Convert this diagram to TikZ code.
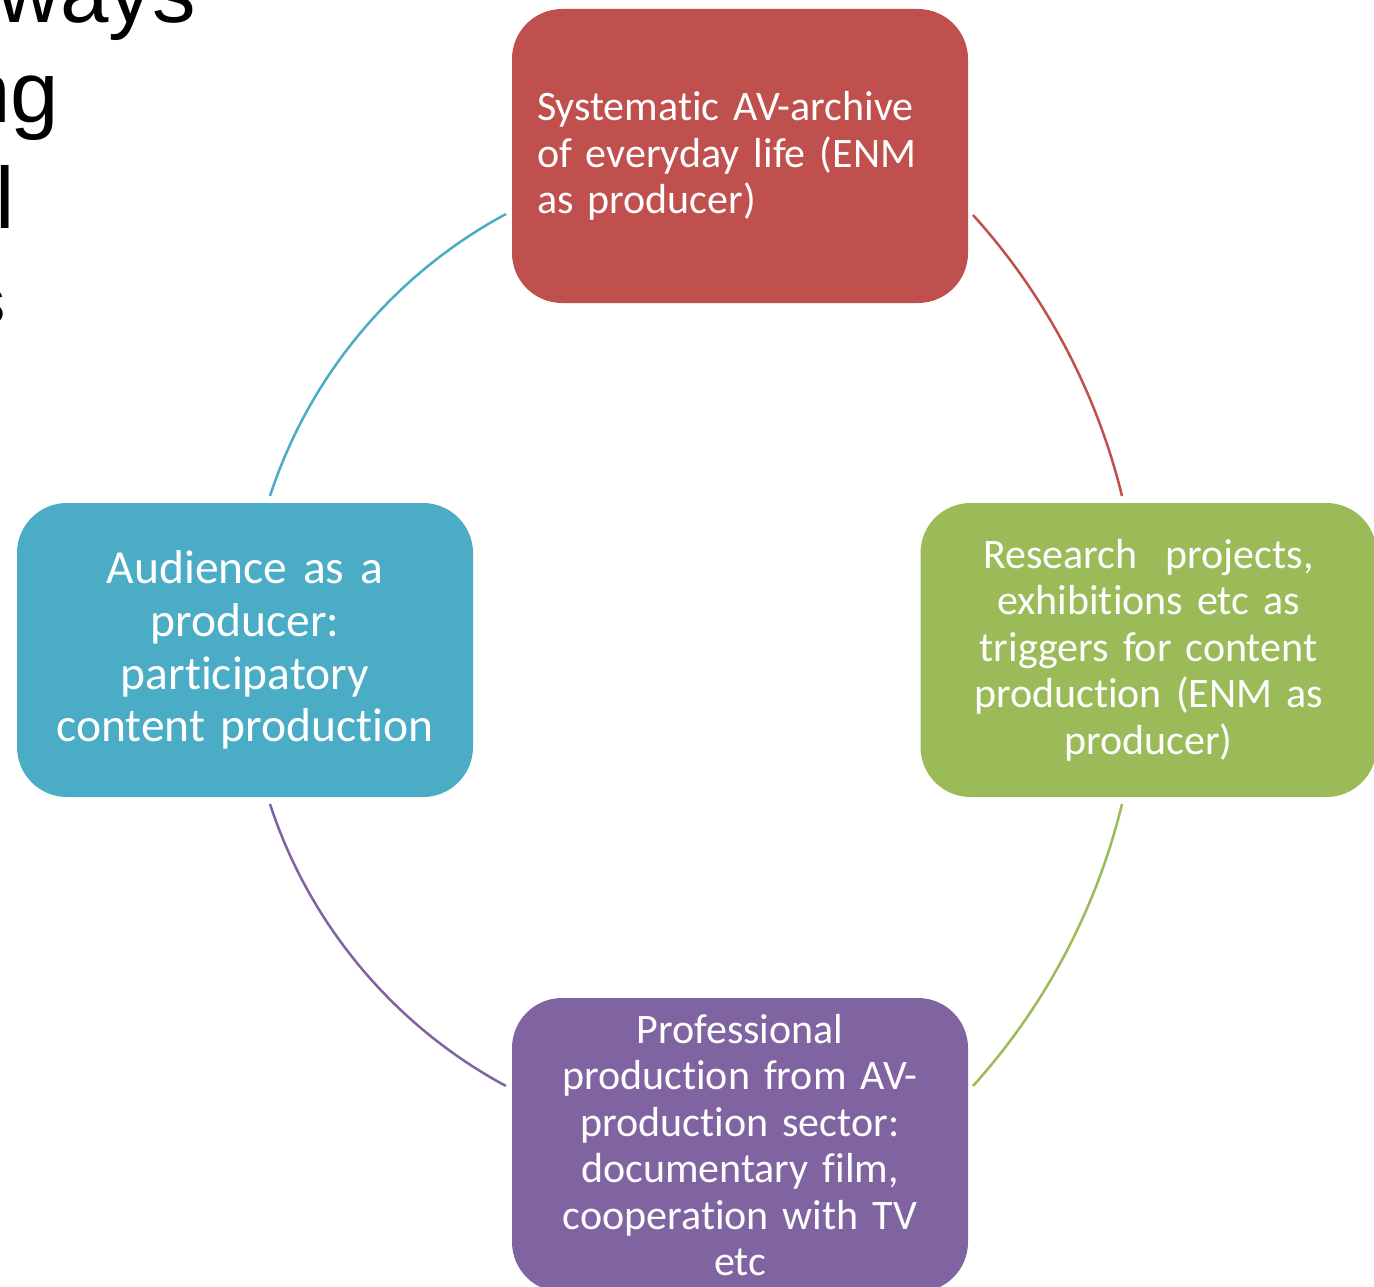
\documentclass[tikz,border=0pt]{standalone}
\usepackage{fontspec}
\setmainfont{Carlito}[Ligatures={NoCommon}]
\newfontfamily\arialfont{Liberation Sans}
\definecolor{boxred}{HTML}{C0504D}
\definecolor{boxgreen}{HTML}{9BBB59}
\definecolor{boxpurple}{HTML}{8064A2}
\definecolor{boxcyan}{HTML}{4BACC6}
\begin{document}
\begin{tikzpicture}[x=1pt,y=-1pt,
  cyclebox/.style={rounded corners=50pt, minimum width=456pt, minimum height=294pt,
    text=white, inner sep=0pt, text width=446pt, align=center,
    font=\fontsize{42}{46.5}\selectfont},
  arcline/.style={line width=2.5pt},
  bgtext/.style={inner sep=0pt, anchor=base east, font=\arialfont\fontsize{87}{100}\selectfont}]
\useasboundingbox (0,0) rectangle (1374,1287);
\clip (0,0) rectangle (1374,1287);

% background title fragments
\node[bgtext] (bgA) at (196,23) {ways};
\node[bgtext] (bgB) at (59,123) {ng};
\node[bgtext] (bgC) at (15.5,228) {l};
\node[bgtext, font=\arialfont\fontsize{64}{74}\selectfont] (bgD) at (6,323) {s};

% arc end points
\coordinate (a1s) at (506,214);
\coordinate (a1e) at (270,496);
\coordinate (a2s) at (973,215);
\coordinate (a2e) at (1122,496);
\coordinate (a3s) at (1122,804);
\coordinate (a3e) at (973,1086);
\coordinate (a4s) at (270,804);
\coordinate (a4e) at (506,1086);

\draw[arcline, boxcyan] (a1s) to[bend right=21.85, looseness=0.883] (a1e);
\draw[arcline, boxred] (a2s) to[bend left=14.2, looseness=0.865] (a2e);
\draw[arcline, boxgreen] (a3s) to[bend left=14.2, looseness=0.865] (a3e);
\draw[arcline, boxpurple] (a4s) to[bend right=21.85, looseness=0.883] (a4e);

% boxes
\node[cyclebox, fill=boxred, text width=406pt, inner xsep=25pt, align=left] (top) at (740,156)
  {Systematic AV-archive\\of everyday life (ENM\\as producer)};
\node[cyclebox, fill=boxgreen] (right) at (1148.5,650)
  {Research~ projects,\\exhibitions etc as\\triggers for content\\production (ENM as\\producer)};
\node[cyclebox, fill=boxpurple] (bottom) at (740,1145)
  {Professional\\production from AV-\\production sector:\\documentary film,\\cooperation with TV\\etc};
\node[cyclebox, fill=boxcyan, font=\fontsize{47.5}{52.7}\selectfont] (left) at (245,650)
  {Audience as a\\producer:\\participatory\\content production};
\end{tikzpicture}
\end{document}
